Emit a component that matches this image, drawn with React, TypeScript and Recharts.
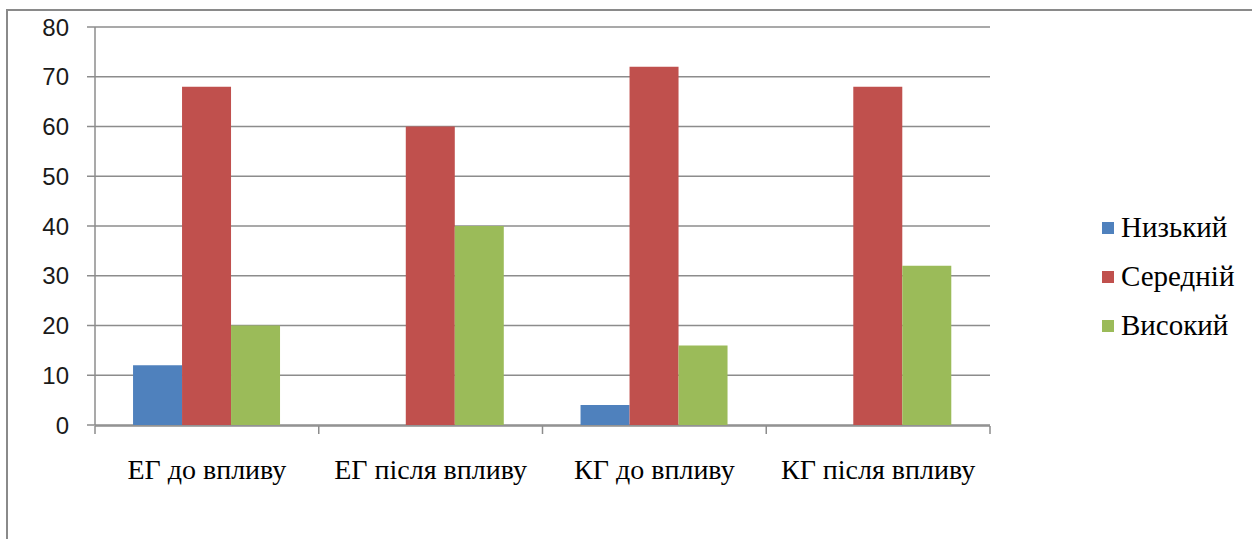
import React from "react";
import { BarChart, Bar, XAxis, YAxis, CartesianGrid, Legend } from "recharts";

const categories = ["ЕГ до впливу", "ЕГ після впливу", "КГ до впливу", "КГ після впливу"];
const lowValues = [12, 0, 4, 0];
const midValues = [68, 60, 72, 68];
const highValues = [20, 40, 16, 32];
const yTicks = [0, 10, 20, 30, 40, 50, 60, 70, 80];
const boundaryTicks = [0, 1, 2, 3, 4];

const seriesNames = { low: "Низький", mid: "Середній", high: "Високий" };
const seriesOrder = [seriesNames.low, seriesNames.mid, seriesNames.high];
const colors = { low: "#4F81BD", mid: "#C0504D", high: "#9BBB59" };

const data = categories.map((name, i) => ({
  name,
  idx: i + 0.5,
  low: lowValues[i],
  mid: midValues[i],
  high: highValues[i],
}));

const gridColor = "#8c8c8c";

function LegendContent(props: any) {
  const items = [...(props.payload || [])].sort(
    (a: any, b: any) => seriesOrder.indexOf(a.value) - seriesOrder.indexOf(b.value)
  );
  return (
    <div style={{ fontFamily: "'Liberation Serif', 'Times New Roman', serif", fontSize: 29, color: "#000" }}>
      {items.map((p: any) => (
        <div key={p.value} style={{ display: "flex", alignItems: "center", height: 49 }}>
          <span style={{ display: "inline-block", width: 12, height: 12, background: p.color, marginRight: 7 }} />
          <span>{p.value}</span>
        </div>
      ))}
    </div>
  );
}

export default function App() {
  return (
    <div
      style={{
        position: "absolute",
        left: 6,
        top: 9,
        width: 1246,
        height: 530,
        borderLeft: "2px solid #8a8a8a",
        borderTop: "2px solid #8a8a8a",
        background: "#fff",
        overflow: "hidden",
      }}
    >
      <BarChart
        width={1244}
        height={528}
        data={data}
        margin={{ top: 16, right: 262, left: 0, bottom: 112 }}
        barCategoryGap="17%"
        barGap={0}
      >
        <CartesianGrid vertical={false} stroke={gridColor} strokeWidth={1.5} />
        <XAxis
          xAxisId="ticks"
          dataKey="idx"
          type="number"
          domain={[0, 4]}
          ticks={boundaryTicks}
          height={1}
          tick={() => <g />}
          axisLine={{ stroke: gridColor, strokeWidth: 1.5 }}
          tickLine={{ stroke: gridColor, strokeWidth: 1.5 }}
          tickSize={8}
        />
        <XAxis
          xAxisId="cats"
          dataKey="name"
          height={1}
          axisLine={false}
          tickLine={false}
          tickSize={0}
          tickMargin={34}
          interval={0}
          tick={{ fontFamily: "'Liberation Serif', 'Times New Roman', serif", fontSize: 28, fill: "#000" }}
        />
        <YAxis
          domain={[0, 80]}
          ticks={yTicks}
          width={87}
          tickSize={8}
          tickMargin={18}
          axisLine={{ stroke: gridColor, strokeWidth: 1.5 }}
          tickLine={{ stroke: gridColor, strokeWidth: 1.5 }}
          tick={{ fontFamily: "'Liberation Sans', Arial, sans-serif", fontSize: 24, fill: "#1a1a1a" }}
        />
        <Legend
          layout="vertical"
          align="center"
          verticalAlign="middle"
          content={<LegendContent />}
          wrapperStyle={{ left: 1094, top: 192, width: 150 }}
        />
        <Bar xAxisId="cats" dataKey="low" name={seriesNames.low} fill={colors.low} isAnimationActive={false} />
        <Bar xAxisId="cats" dataKey="mid" name={seriesNames.mid} fill={colors.mid} isAnimationActive={false} />
        <Bar xAxisId="cats" dataKey="high" name={seriesNames.high} fill={colors.high} isAnimationActive={false} />
      </BarChart>
    </div>
  );
}
